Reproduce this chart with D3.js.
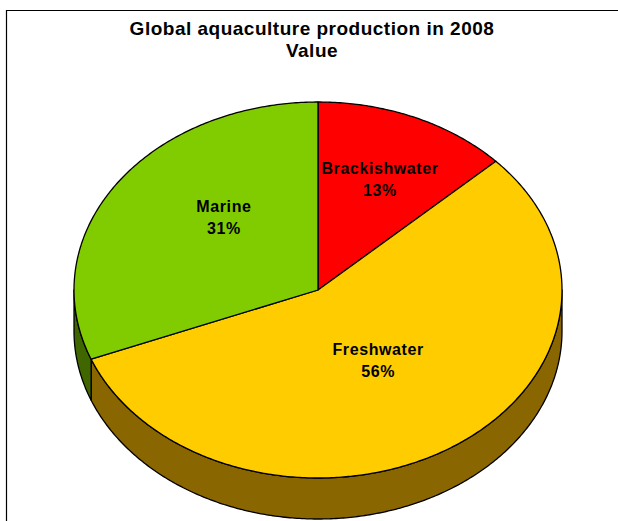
<!DOCTYPE html>
<html>
<head>
<meta charset="utf-8">
<script src="https://cdn.jsdelivr.net/npm/d3@7"></script>
<style>
  html, body { margin: 0; padding: 0; background: #fff; }
  svg { display: block; }
  text { font-family: "Liberation Sans", Arial, sans-serif; font-weight: bold; fill: #000; }
</style>
</head>
<body>
<svg id="chart" width="618" height="521"></svg>
<script>
// data
const categories = ["Brackishwater", "Freshwater", "Marine"];
const shares = [13, 56, 31];
const titleLines = ["Global aquaculture production in 2008", "Value"];

// styling
const topColors = ["#ff0000", "#ffcc00", "#80cc00"];
const sideColors = ["#800000", "#8a6600", "#406600"];
const labelFrac = [[0.64, 0.64], [0.46, 0.45], [0.466, 0.68]];

const width = 618, height = 521;
const cx = 318, cy = 290, rx = 244, ry = 188, depth = 41;

const svg = d3.select("#chart");

// frame (clipped by the picture on right and bottom)
svg.append("path")
    .attr("d", `M6.5,${height + 2}V10.5H${width + 2}`)
    .attr("fill", "none")
    .attr("stroke", "#000")
    .attr("stroke-width", 1.2);

svg.selectAll(".title")
    .data(titleLines)
    .enter().append("text")
    .attr("class", "title")
    .attr("x", 312)
    .attr("y", (d, i) => 35 + i * 22)
    .attr("text-anchor", "middle")
    .attr("font-size", 19)
    .attr("letter-spacing", 0.5)
    .text(d => d);

const pie = d3.pie().sort(null).value(d => d);
const arcs = pie(shares);

// angle measured clockwise from 12 o'clock
const px = a => cx + rx * Math.sin(a);
const py = a => cy - ry * Math.cos(a);

const edge = (a0, a1, dy) => {
    const n = Math.max(2, Math.ceil(Math.abs(a1 - a0) / 0.01));
    return d3.range(n + 1).map(i => {
        const a = a0 + (a1 - a0) * i / n;
        return [px(a), py(a) + dy];
    });
};

const line = d3.line();

// side walls, only the front half is visible
const g = svg.append("g");
arcs.forEach((d, i) => {
    const a0 = Math.max(d.startAngle, Math.PI / 2);
    const a1 = Math.min(d.endAngle, Math.PI * 3 / 2);
    if (a1 <= a0) return;
    const pts = edge(a0, a1, 0).concat(edge(a1, a0, depth));
    g.append("path")
        .attr("d", line(pts) + "Z")
        .attr("fill", sideColors[i])
        .attr("stroke", "#000")
        .attr("stroke-width", 1.3)
        .attr("stroke-linejoin", "round");
});

// top faces
arcs.forEach((d, i) => {
    const pts = [[cx, cy]].concat(edge(d.startAngle, d.endAngle, 0));
    g.append("path")
        .attr("d", line(pts) + "Z")
        .attr("fill", topColors[i])
        .attr("stroke", "#000")
        .attr("stroke-width", 1.3)
        .attr("stroke-linejoin", "round");
});

// labels
arcs.forEach((d, i) => {
    const mid = (d.startAngle + d.endAngle) / 2;
    const x = cx + rx * labelFrac[i][0] * Math.sin(mid);
    const y = cy - ry * labelFrac[i][1] * Math.cos(mid);
    const t = g.append("text")
        .attr("text-anchor", "middle")
        .attr("font-size", 16)
        .attr("letter-spacing", 0.6);
    t.append("tspan").attr("x", x).attr("y", y - 6).text(categories[i]);
    t.append("tspan").attr("x", x).attr("y", y + 16).text(Math.round(d.data) + "%");
});
</script>
</body>
</html>
